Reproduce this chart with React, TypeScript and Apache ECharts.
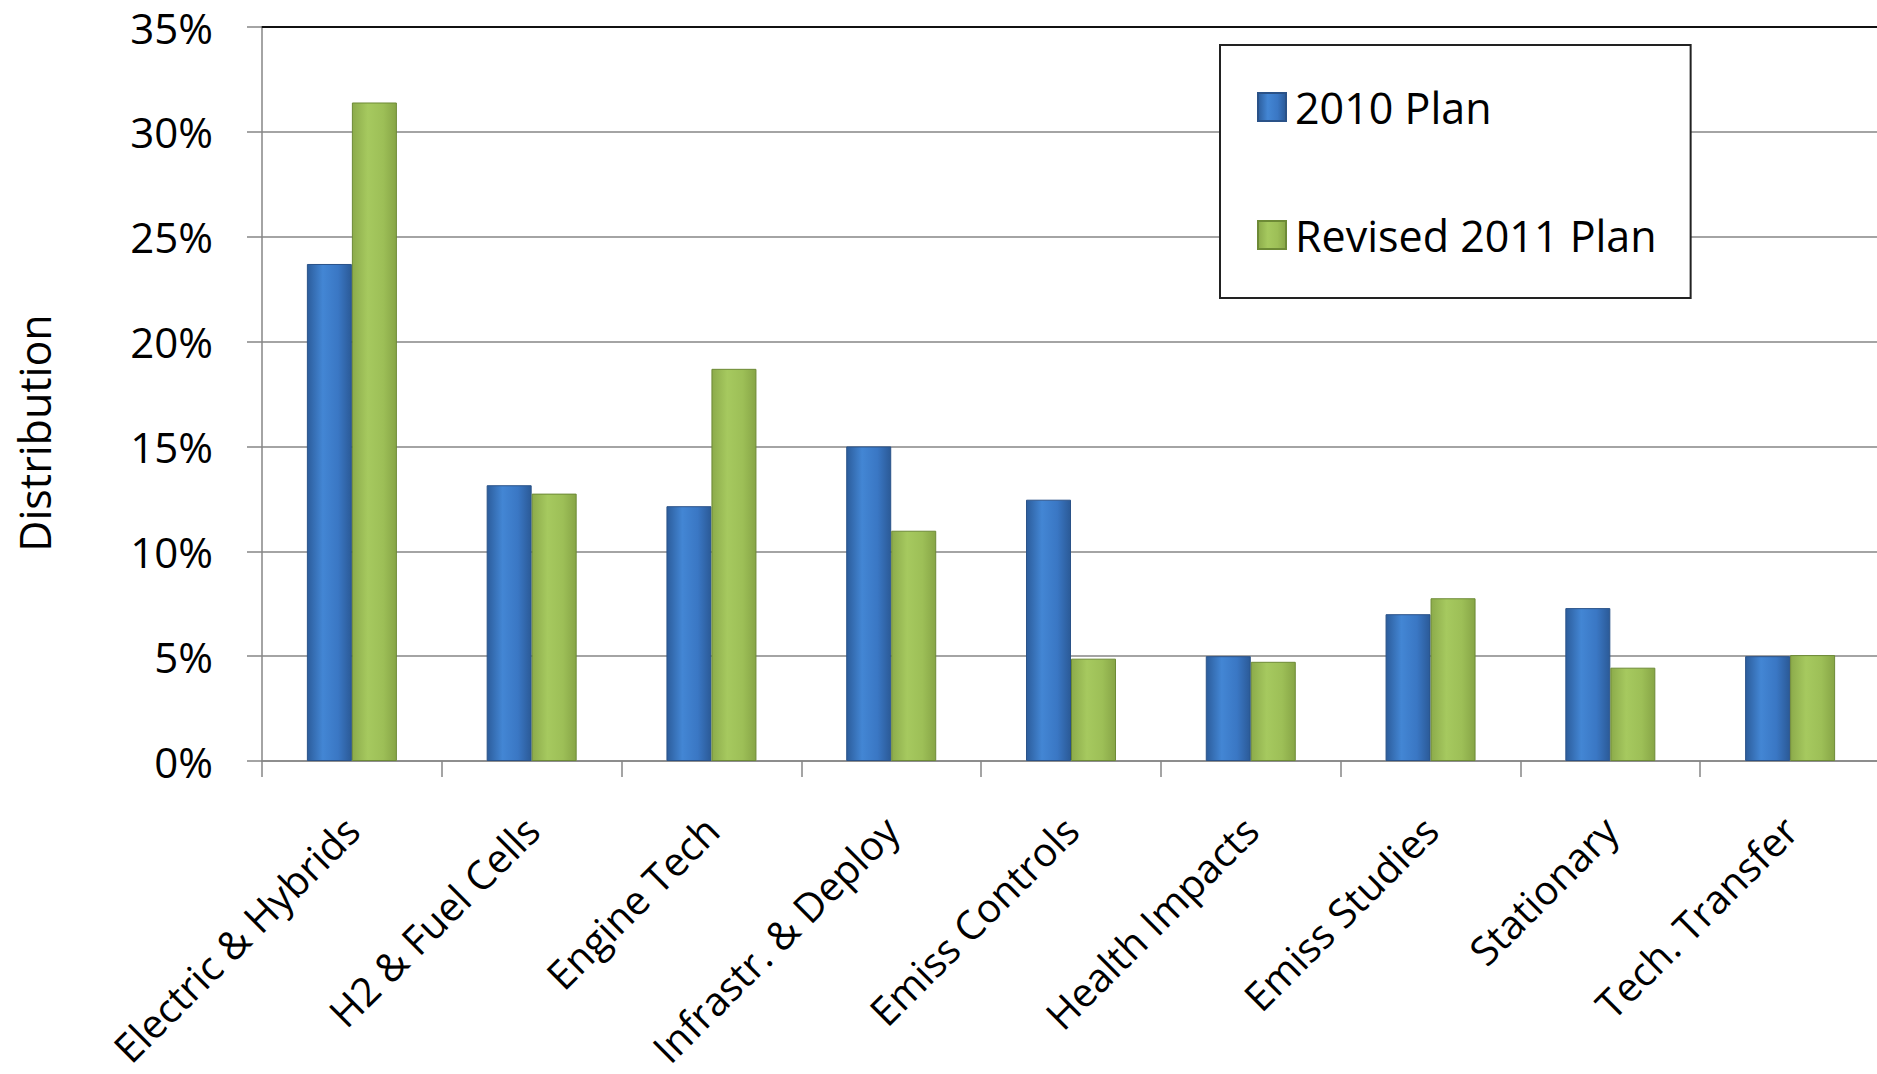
import React, { useEffect, useRef } from "react";
import * as echarts from "echarts";

const categories = [
  "Electric & Hybrids",
  "H2 & Fuel Cells",
  "Engine Tech",
  "Infrastr. & Deploy",
  "Emiss Controls",
  "Health Impacts",
  "Emiss Studies",
  "Stationary",
  "Tech. Transfer",
];
const plan2010 = [23.7, 13.15, 12.15, 15.0, 12.46, 5.0, 7.0, 7.29, 5.0];
const revised2011 = [31.4, 12.75, 18.7, 10.98, 4.88, 4.73, 7.76, 4.45, 5.05];
const seriesNames = ["2010 Plan", "Revised 2011 Plan"];
const yTicks = { min: 0, max: 35, interval: 5 };
const yTitle = "Distribution";

const FONT = "'Open Sans', 'Noto Sans', sans-serif";

const blueFill = new echarts.graphic.LinearGradient(0, 0, 1, 0, [
  { offset: 0, color: "#2c5d9c" },
  { offset: 0.35, color: "#4386d4" },
  { offset: 0.7, color: "#3a77c4" },
  { offset: 1, color: "#2b5a97" },
]);
const greenFill = new echarts.graphic.LinearGradient(0, 0, 1, 0, [
  { offset: 0, color: "#8cab4b" },
  { offset: 0.35, color: "#a6c95f" },
  { offset: 0.7, color: "#9dbf57" },
  { offset: 1, color: "#87a546" },
]);

export default function App() {
  const ref = useRef<HTMLDivElement>(null);
  useEffect(() => {
    if (!ref.current) return;
    const chart = echarts.init(ref.current, undefined, { renderer: "svg" });
    chart.setOption({
      animation: false,
      backgroundColor: "#ffffff",
      textStyle: { fontFamily: FONT },
      grid: {
        left: 262,
        top: 27,
        right: -3,
        bottom: 313,
        containLabel: false,
        outerBoundsMode: "none",
      },
      legend: {
        orient: "vertical",
        left: 1220,
        top: 45,
        data: seriesNames,
        icon: "rect",
        itemWidth: 28,
        itemHeight: 28,
        itemGap: 84,
        padding: [40, 34, 41, 37],
        borderColor: "#222",
        borderWidth: 2,
        backgroundColor: "#ffffff",
        textStyle: { fontSize: 43, color: "#000", fontFamily: FONT, lineHeight: 44, padding: [0, 0, 0, 4] },
      },
      xAxis: [
        {
          type: "category",
          data: categories,
          axisLine: { show: true, lineStyle: { color: "#868686", width: 1.5 } },
          axisTick: { show: true, length: 16, lineStyle: { color: "#868686", width: 1.5 } },
          axisLabel: {
            rotate: 45,
            fontSize: 40,
            lineHeight: 30,
            color: "#000",
            fontFamily: FONT,
            margin: 62,
            interval: 0,
          },
        },
        {
          type: "category",
          position: "top",
          data: categories,
          axisLine: { show: true, lineStyle: { color: "#111", width: 2 } },
          axisTick: { show: false },
          axisLabel: { show: false },
        },
      ],
      yAxis: {
        type: "value",
        min: yTicks.min,
        max: yTicks.max,
        interval: yTicks.interval,
        axisLine: { show: true, lineStyle: { color: "#868686", width: 1.5 } },
        axisTick: { show: true, length: 15, lineStyle: { color: "#868686", width: 1.5 } },
        axisLabel: {
          formatter: "{value}%",
          fontSize: 42,
          lineHeight: 34,
          color: "#000",
          fontFamily: FONT,
          margin: 49,
        },
        splitLine: { show: true, lineStyle: { color: "#868686", width: 1.5 } },
      },
      graphic: [
        {
          type: "text",
          x: 34,
          y: 433,
          rotation: Math.PI / 2,
          style: {
            text: yTitle,
            fontSize: 43,
            fontFamily: FONT,
            fill: "#000",
            align: "center",
            verticalAlign: "middle",
          },
        },
      ],
      series: [
        {
          name: seriesNames[0],
          type: "bar",
          data: plan2010,
          barWidth: 45,
          barGap: "0%",
          itemStyle: { color: blueFill, borderColor: "#2a5288", borderWidth: 1 },
        },
        {
          name: seriesNames[1],
          type: "bar",
          data: revised2011,
          barWidth: 45,
          barGap: "0%",
          itemStyle: { color: greenFill, borderColor: "#6d8a36", borderWidth: 1 },
        },
      ],
    });
    return () => chart.dispose();
  }, []);
  return (
    <div
      ref={ref}
      style={{ position: "absolute", left: 0, top: 0, width: 1877, height: 1074 }}
    />
  );
}
